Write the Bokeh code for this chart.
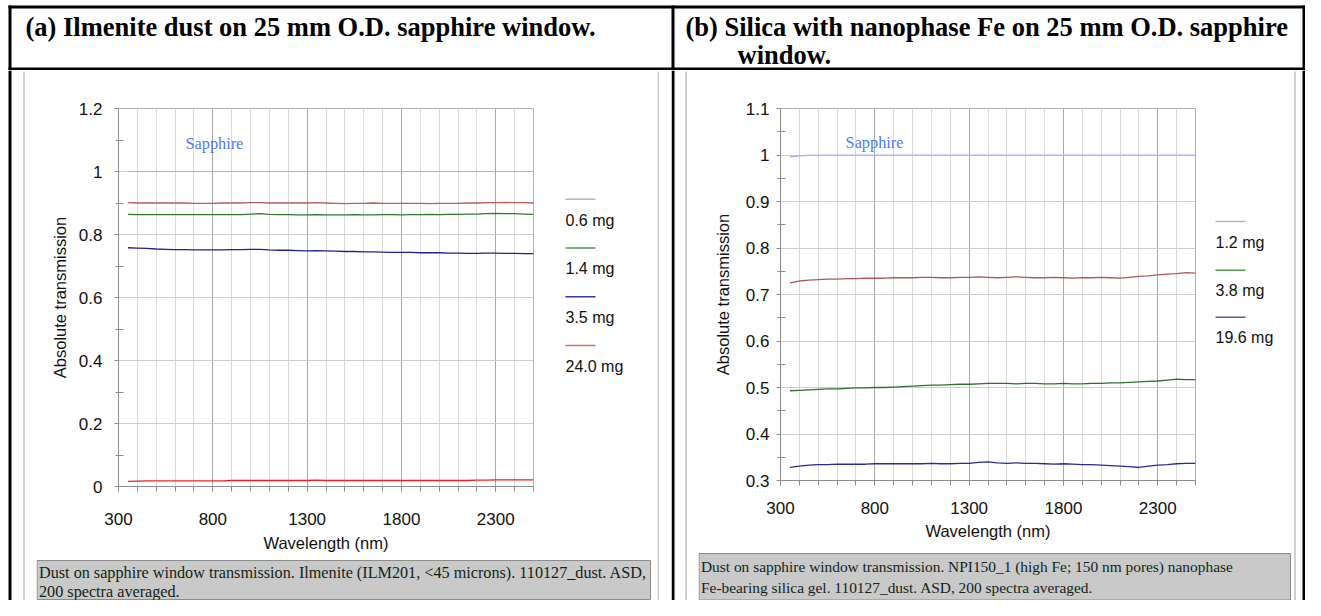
from bokeh.plotting import figure
from bokeh.layouts import row, column
from bokeh.models import Range1d, FixedTicker, NumeralTickFormatter
from bokeh.core.properties import value
from bokeh.embed import file_html
from bokeh.resources import INLINE

# ---------------- data ----------------
title_a = "(a) Ilmenite dust on 25 mm O.D. sapphire window."
title_b1 = "(b) Silica with nanophase Fe on 25 mm O.D. sapphire"
title_b2 = "window."

caption_a = ["Dust on sapphire window transmission. Ilmenite (ILM201, <45 microns). 110127_dust. ASD,",
             "200 spectra averaged."]
caption_b = ["Dust on sapphire window transmission. NPI150_1 (high Fe; 150 nm pores) nanophase",
             "Fe-bearing silica gel. 110127_dust. ASD, 200 spectra averaged."]

x_label = "Wavelength (nm)"
y_label = "Absolute transmission"
x_ticks = [300, 800, 1300, 1800, 2300]
ya_ticks = [0, 0.2, 0.4, 0.6, 0.8, 1.0, 1.2]
yb_ticks = [0.3, 0.4, 0.5, 0.6, 0.7, 0.8, 0.9, 1.0, 1.1]

wl = [350, 400, 450, 500, 550, 600, 650, 700, 750, 800, 850,
      900, 950, 1000, 1050, 1100, 1150, 1200, 1250, 1300, 1350, 1400,
      1450, 1500, 1550, 1600, 1650, 1700, 1750, 1800, 1850, 1900, 1950,
      2000, 2050, 2100, 2150, 2200, 2250, 2300, 2350, 2400, 2450, 2500]

sapphire_a = [1.000, 1.000, 1.000, 1.000, 1.000, 1.000, 1.000, 1.000, 1.000, 1.000, 1.000,
              1.000, 1.000, 1.000, 1.000, 1.000, 1.000, 1.000, 1.000, 1.000, 1.000, 1.000,
              1.000, 1.000, 1.000, 1.000, 1.000, 1.000, 1.000, 1.000, 1.000, 1.000, 1.000,
              1.000, 1.000, 1.000, 1.000, 1.000, 1.000, 1.000, 1.000, 1.000, 1.000, 1.000]
ilm_06mg = [0.901, 0.900, 0.900, 0.900, 0.900, 0.900, 0.900, 0.899, 0.899, 0.899, 0.900,
            0.900, 0.900, 0.901, 0.901, 0.900, 0.900, 0.900, 0.900, 0.900, 0.901, 0.900,
            0.899, 0.898, 0.899, 0.899, 0.900, 0.899, 0.899, 0.899, 0.899, 0.899, 0.898,
            0.899, 0.899, 0.899, 0.900, 0.900, 0.901, 0.901, 0.902, 0.901, 0.901, 0.900]
ilm_14mg = [0.864, 0.863, 0.863, 0.863, 0.863, 0.863, 0.863, 0.863, 0.863, 0.863, 0.863,
            0.863, 0.863, 0.865, 0.866, 0.864, 0.863, 0.863, 0.862, 0.862, 0.863, 0.862,
            0.862, 0.862, 0.863, 0.862, 0.862, 0.863, 0.863, 0.862, 0.863, 0.863, 0.864,
            0.863, 0.864, 0.864, 0.865, 0.865, 0.866, 0.867, 0.866, 0.866, 0.865, 0.864]
ilm_35mg = [0.758, 0.757, 0.756, 0.754, 0.753, 0.752, 0.752, 0.751, 0.751, 0.751, 0.751,
            0.752, 0.752, 0.753, 0.753, 0.751, 0.750, 0.750, 0.749, 0.748, 0.749, 0.748,
            0.747, 0.746, 0.746, 0.745, 0.745, 0.744, 0.743, 0.743, 0.743, 0.742, 0.742,
            0.742, 0.741, 0.741, 0.740, 0.740, 0.741, 0.741, 0.740, 0.740, 0.739, 0.739]
ilm_240mg = [0.016, 0.017, 0.018, 0.018, 0.018, 0.018, 0.018, 0.018, 0.018, 0.018, 0.018,
             0.019, 0.019, 0.019, 0.019, 0.019, 0.019, 0.019, 0.019, 0.019, 0.020, 0.019,
             0.019, 0.019, 0.019, 0.019, 0.019, 0.019, 0.019, 0.019, 0.019, 0.019, 0.019,
             0.019, 0.019, 0.019, 0.019, 0.020, 0.020, 0.021, 0.021, 0.021, 0.021, 0.021]

sapphire_b = [0.996, 0.998, 0.999, 0.999, 1.000, 1.000, 1.000, 1.000, 1.000, 1.000, 1.000,
              1.000, 1.000, 1.000, 1.000, 1.000, 1.000, 1.000, 1.000, 1.000, 1.000, 1.000,
              1.000, 1.000, 1.000, 1.000, 1.000, 1.000, 1.000, 1.000, 1.000, 1.000, 1.000,
              1.000, 1.000, 1.000, 1.000, 1.000, 1.000, 1.000, 1.000, 1.000, 1.000, 1.000]
npfe_12mg = [0.725, 0.729, 0.731, 0.732, 0.733, 0.733, 0.734, 0.734, 0.735, 0.735, 0.735,
             0.736, 0.736, 0.736, 0.737, 0.737, 0.736, 0.736, 0.737, 0.737, 0.738, 0.737,
             0.736, 0.737, 0.738, 0.737, 0.736, 0.736, 0.737, 0.736, 0.735, 0.736, 0.736,
             0.737, 0.736, 0.735, 0.737, 0.739, 0.740, 0.742, 0.744, 0.745, 0.747, 0.746]
npfe_38mg = [0.493, 0.494, 0.495, 0.496, 0.497, 0.497, 0.498, 0.499, 0.499, 0.500, 0.500,
             0.501, 0.502, 0.503, 0.504, 0.505, 0.505, 0.506, 0.507, 0.507, 0.508, 0.509,
             0.509, 0.509, 0.508, 0.509, 0.509, 0.508, 0.508, 0.509, 0.508, 0.508, 0.509,
             0.509, 0.510, 0.510, 0.511, 0.512, 0.513, 0.514, 0.516, 0.518, 0.517, 0.517]
npfe_196mg = [0.328, 0.331, 0.333, 0.334, 0.334, 0.335, 0.335, 0.335, 0.335, 0.336, 0.336,
              0.336, 0.336, 0.336, 0.336, 0.337, 0.336, 0.336, 0.337, 0.337, 0.339, 0.340,
              0.338, 0.337, 0.338, 0.337, 0.337, 0.336, 0.335, 0.336, 0.335, 0.334, 0.334,
              0.333, 0.332, 0.331, 0.330, 0.328, 0.331, 0.333, 0.334, 0.336, 0.337, 0.337]

legend_a = ["0.6 mg", "1.4 mg", "3.5 mg", "24.0 mg"]
legend_b = ["1.2 mg", "3.8 mg", "19.6 mg"]

# ---------------- styles ----------------
SANS = "Liberation Sans"
SERIF = "Liberation Serif"
SAPPHIRE_LINE = "#a9a9ff"
SAPPHIRE_TEXT = "#4d7cff"
lines_a_colors = ["#b65c5c", "#2f7a2f", "#22228f", "#f02020"]
legend_a_colors = ["#b5b5b5", "#4f9a4f", "#3535b5", "#d46a6a"]
lines_b_colors = ["#b05858", "#2f6f2f", "#2a2a9a"]
legend_b_colors = ["#b5b5b5", "#4f9a4f", "#5757cc"]


def canvas(w, h):
    p = figure(width=w, height=h, x_range=Range1d(0, w), y_range=Range1d(h, 0),
               min_border=0, toolbar_location=None, output_backend="svg",
               x_axis_location=None, y_axis_location=None, outline_line_color=None)
    p.grid.visible = False
    p.background_fill_color = "white"
    p.border_fill_color = "white"
    return p


def chart(h, yr, yticks, yminor, series, colors, sap, sap_xy, mb_bottom,
          y_tick_sd, y_lab_sd, x_tick_sd, x_lab_sd):
    p = figure(width=507, height=h, x_range=Range1d(300, 2500), y_range=Range1d(*yr),
               min_border_left=82, min_border_right=10, min_border_top=38,
               min_border_bottom=mb_bottom, toolbar_location=None, output_backend="svg")
    p.background_fill_color = "white"
    p.border_fill_color = "white"
    p.outline_line_color = "#b0b0b0"
    p.xaxis.ticker = FixedTicker(ticks=x_ticks, minor_ticks=list(range(300, 2600, 100)))
    p.yaxis.ticker = FixedTicker(ticks=yticks, minor_ticks=yminor)
    p.yaxis.formatter = NumeralTickFormatter(format="0.[0]")
    p.xgrid.grid_line_color = "#a8a8a8"
    p.xgrid.minor_grid_line_color = "#dadada"
    p.ygrid.grid_line_color = "#cdcdcd"
    p.xaxis.axis_label = x_label
    p.yaxis.axis_label = y_label
    for ax in (p.xaxis[0], p.yaxis[0]):
        ax.axis_line_color = "#8c8c8c"
        ax.major_tick_line_color = "#8c8c8c"
        ax.minor_tick_line_color = "#8c8c8c"
        ax.major_label_text_font = SANS
        ax.major_label_text_font_size = "17px"
        ax.major_label_text_color = "#111111"
        ax.axis_label_text_font = SANS
        ax.axis_label_text_font_size = "16.5px"
        ax.axis_label_text_font_style = "normal"
        ax.axis_label_text_color = "#111111"
    p.xaxis.major_tick_in = 0
    p.xaxis.major_tick_out = 5
    p.xaxis.minor_tick_in = 0
    p.xaxis.minor_tick_out = 5
    p.yaxis.major_tick_in = 0
    p.yaxis.major_tick_out = 4
    p.yaxis.minor_tick_in = 5
    p.yaxis.minor_tick_out = 3
    p.yaxis.major_label_standoff = y_tick_sd
    p.yaxis.axis_label_standoff = y_lab_sd
    p.xaxis.major_label_standoff = x_tick_sd
    p.xaxis.axis_label_standoff = x_lab_sd
    p.line(wl, sap, line_color=SAPPHIRE_LINE, line_width=1.2)
    for s, c in zip(series, colors):
        p.line(wl, s, line_color=c, line_width=1.3)
    p.text(x=[sap_xy[0]], y=[sap_xy[1]], text=["Sapphire"], text_font=value(SERIF),
           text_font_size="16.3px", text_color=SAPPHIRE_TEXT, text_baseline="middle")
    return p


def legend_fig(w, h, labels, colors, line_y, text_y, x0):
    p = canvas(w, h)
    p.segment(x0=[x0] * len(labels), x1=[x0 + 30] * len(labels), y0=line_y, y1=line_y,
              line_color=colors, line_width=1.5)
    p.text(x=[x0] * len(labels), y=text_y, text=labels, text_font=value(SANS),
           text_font_size="16px", text_color="#111111", text_baseline="middle")
    return p


def caption_fig(w, h, lines, box_top, box_bot, box_w, text_y, size):
    p = canvas(w, h)
    p.quad(left=[0.5], right=[box_w], top=[box_top], bottom=[box_bot],
           fill_color="#c9c9c9", line_color="#8c8c8c", line_width=1)
    p.text(x=[2.5] * len(lines), y=text_y, text=lines, text_font=value(SERIF),
           text_font_size=size, text_color="#142414", text_baseline="middle")
    return p


def strip(w, h, black_x, gray_x):
    p = canvas(w, h)
    if black_x is not None:
        p.segment(x0=[black_x], x1=[black_x], y0=[0], y1=[h], line_color="black", line_width=3)
    p.segment(x0=[gray_x], x1=[gray_x], y0=[1], y1=[h], line_color="#a0a0a0", line_width=1)
    return p


# ---------------- header ----------------
hdr = canvas(1305, 70)
hdr.segment(x0=[8, 9.5, 672.5, 1303.5, 8], x1=[1305, 9.5, 672.5, 1303.5, 1305],
            y0=[6.5, 5, 5, 5, 68.5], y1=[6.5, 70, 70, 70, 68.5],
            line_color="black", line_width=3)
hdr.text(x=[25, 685, 737], y=[26, 26, 54], text=[title_a, title_b1, title_b2],
         text_font=value(SERIF), text_font_style="bold", text_font_size="26.5px",
         text_color="black", text_baseline="middle")

# ---------------- panel (a) ----------------
chart_a = chart(488, (0, 1.2), ya_ticks,
                [0.1, 0.3, 0.5, 0.7, 0.9, 1.1],
                [ilm_06mg, ilm_14mg, ilm_35mg, ilm_240mg], lines_a_colors,
                sapphire_a, (655, 1.09), 72, 12, 7, 21, 6)
leg_a = legend_fig(114, 488, legend_a, legend_a_colors, [117, 180, 243, 306],
                   [144, 207, 270, 333], 22)
cap_a = caption_fig(621, 42, caption_a, 2, 41, 614, [14, 33], "16.2px")
panel_a = row(strip(36, 530, 9.5, 23.5), column(row(chart_a, leg_a), cap_a),
              strip(14, 530, None, 0.5))

# ---------------- panel (b) ----------------
chart_b = chart(481, (0.3, 1.1), yb_ticks,
                [0.35, 0.45, 0.55, 0.65, 0.75, 0.85, 0.95, 1.05],
                [npfe_12mg, npfe_38mg, npfe_196mg], lines_b_colors,
                sapphire_b, (645, 1.027), 71, 7, 11, 16, 5)
leg_b = legend_fig(88, 481, legend_b, legend_b_colors, [146, 209, 270],
                   [173, 235, 296], 10)
cap_b = caption_fig(595, 49, caption_b, 2, 48.5, 592, [15, 36], "15.4px")
panel_b = row(strip(27, 530, 1.5, 14.5), column(row(chart_b, leg_b), cap_b),
              strip(12, 530, 10.5, 1.5))

page = column(hdr, row(panel_a, panel_b))

open("out.html", "w").write(file_html(page, INLINE))
